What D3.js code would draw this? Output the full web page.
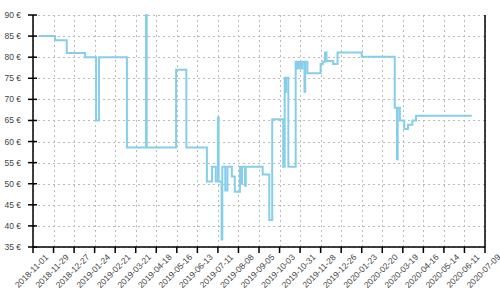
<!DOCTYPE html>
<html>
<head>
<meta charset="utf-8">
<script src="https://cdn.jsdelivr.net/npm/d3@7"></script>
<style>
	body { margin: 0; background: #fff; }
	.grid line { stroke: #bbb; stroke-width: 1; stroke-dasharray: 2,3; }
	.frame { stroke: #000; stroke-width: 1.5; }
	.tick_label { font-family: 'Liberation Sans', Arial, sans-serif; font-size: 8.5px; fill: #444; }
	.price_line { fill: none; stroke: #87ceeb; stroke-width: 2; }
</style>
</head>
<body>
<svg id="chart" width="500" height="300"></svg>
<script>
// price history
const dates = [
	'2018-11-09', '2018-12-01', '2018-12-17', '2019-01-11', '2019-01-26', '2019-01-30',
	'2019-03-09', '2019-04-04', '2019-04-05', '2019-05-15', '2019-05-29', '2019-06-26',
	'2019-07-03', '2019-07-08', '2019-07-11', '2019-07-12', '2019-07-16', '2019-07-17',
	'2019-07-21', '2019-07-24', '2019-07-30', '2019-08-03', '2019-08-10', '2019-08-12',
	'2019-08-13', '2019-08-17', '2019-08-18', '2019-09-10', '2019-09-19', '2019-09-23',
	'2019-10-08', '2019-10-10', '2019-10-11', '2019-10-12', '2019-10-15', '2019-10-25',
	'2019-10-26', '2019-10-27', '2019-10-28', '2019-10-30', '2019-10-31', '2019-11-01',
	'2019-11-02', '2019-11-03', '2019-11-06', '2019-11-07', '2019-11-10', '2019-11-28',
	'2019-12-01', '2019-12-04', '2019-12-06', '2019-12-15', '2019-12-21', '2020-01-23',
	'2020-03-08', '2020-03-11', '2020-03-12', '2020-03-15', '2020-03-21', '2020-03-26',
	'2020-04-01', '2020-04-06', '2020-06-21'
];
const prices = [
	85, 84, 81, 80, 65, 80,
	58.6, 90, 58.6, 77, 58.6, 50.5,
	54, 50.5, 65.7, 50.5, 36.8, 54,
	48.4, 54, 51.7, 48.1, 54, 50,
	54, 49.5, 54, 52.2, 41.4, 65.3,
	54, 75.1, 71.8, 75.1, 54, 78.9,
	77.3, 78.9, 77.3, 78.9, 77.3, 78.9,
	77.3, 78.9, 71.8, 78.9, 76.2, 78.4,
	78.9, 81.1, 79.1, 78.4, 81.1, 80.1,
	68, 55.8, 68, 65, 63, 64,
	65, 66.1, 66.1
];
const xStart = '2018-11-01';
const xEnd = '2020-07-09';
const tickStepDays = 28;
const yTicks = [35, 40, 45, 50, 55, 60, 65, 70, 75, 80, 85, 90];

const parse = d3.timeParse('%Y-%m-%d');
const fmt = d3.timeFormat('%Y-%m-%d');
const m = {l: 33, r: 485, t: 15, b: 247};

const svg = d3.select('#chart');

const xScale = d3.scaleTime()
	.domain([parse(xStart), parse(xEnd)])
	.range([m.l, m.r]);
const yScale = d3.scaleLinear()
	.domain([d3.min(yTicks), d3.max(yTicks)])
	.range([m.b, m.t]);

const nTicks = Math.round(d3.timeDay.count(parse(xStart), parse(xEnd)) / tickStepDays);
const xTicks = d3.range(nTicks + 1).map(i => d3.timeDay.offset(parse(xStart), i * tickStepDays));

// dotted grid
const gGrid = svg.append('g').attr('class', 'grid');
gGrid.selectAll('.grid_v')
	.data(xTicks).enter()
	.append('line')
	.attr('class', 'grid_v')
	.attr('x1', d => Math.round(xScale(d)) + 0.5)
	.attr('x2', d => Math.round(xScale(d)) + 0.5)
	.attr('y1', m.t)
	.attr('y2', m.b);
gGrid.selectAll('.grid_h')
	.data(yTicks).enter()
	.append('line')
	.attr('class', 'grid_h')
	.attr('x1', m.l)
	.attr('x2', m.r)
	.attr('y1', d => Math.round(yScale(d)) + 0.5)
	.attr('y2', d => Math.round(yScale(d)) + 0.5);

// price line
const data = dates.map((d, i) => ({date: parse(d), price: prices[i]}));
const line = d3.line()
	.curve(d3.curveStepAfter)
	.x(d => xScale(d.date))
	.y(d => yScale(d.price));
svg.append('path')
	.datum(data)
	.attr('class', 'price_line')
	.attr('d', line);

// frame: left, bottom, right
svg.append('line').attr('class', 'frame')
	.attr('x1', m.l).attr('x2', m.l).attr('y1', m.t).attr('y2', m.b);
svg.append('line').attr('class', 'frame')
	.attr('x1', m.r).attr('x2', m.r).attr('y1', m.t).attr('y2', m.b);
svg.append('line').attr('class', 'frame')
	.attr('x1', m.l).attr('x2', m.r).attr('y1', m.b).attr('y2', m.b);

// y ticks + labels
const gY = svg.append('g');
gY.selectAll('.y_tick')
	.data(yTicks).enter()
	.append('line')
	.attr('class', 'frame')
	.attr('x1', m.l - 5)
	.attr('x2', m.l + 4)
	.attr('y1', d => yScale(d))
	.attr('y2', d => yScale(d));
gY.selectAll('.y_label')
	.data(yTicks).enter()
	.append('text')
	.attr('class', 'tick_label')
	.attr('x', m.l - 12)
	.attr('y', d => yScale(d))
	.attr('dy', '0.35em')
	.attr('text-anchor', 'end')
	.text(d => d + ' €');

// x ticks + rotated labels
const gX = svg.append('g');
gX.selectAll('.x_tick')
	.data(xTicks).enter()
	.append('line')
	.attr('class', 'frame')
	.attr('x1', d => xScale(d))
	.attr('x2', d => xScale(d))
	.attr('y1', m.b)
	.attr('y2', m.b + 6);
gX.selectAll('.x_label')
	.data(xTicks).enter()
	.append('text')
	.attr('class', 'tick_label')
	.attr('transform', d => 'translate(' + (xScale(d) - 1.5) + ',' + (m.b + 24) + ') rotate(-45)')
	.attr('dy', '0.35em')
	.attr('text-anchor', 'middle')
	.text(d => fmt(d));
</script>
</body>
</html>
